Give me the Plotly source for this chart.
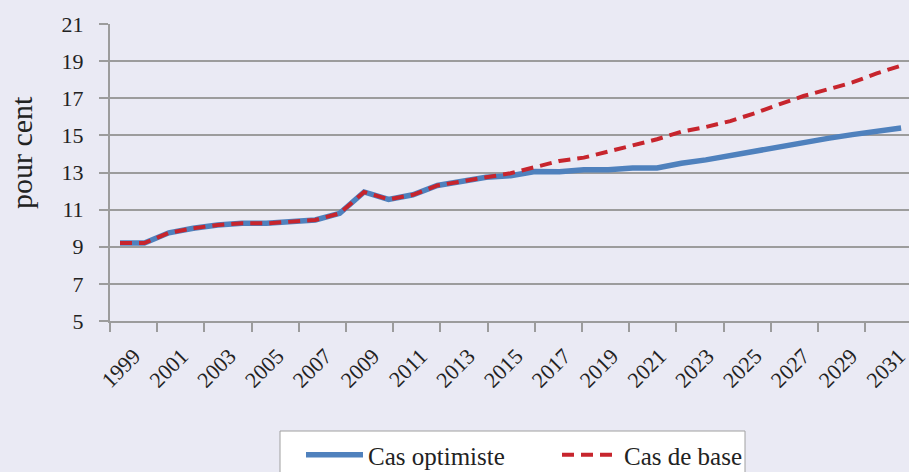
import plotly.graph_objects as go

years = list(range(1999, 2032))
cas_optimiste = [9.2, 9.2, 9.75, 10.0, 10.17, 10.26, 10.26, 10.35, 10.44, 10.8,
                 11.95, 11.55, 11.8, 12.3, 12.54, 12.74, 12.83, 13.05, 13.04, 13.15,
                 13.15, 13.24, 13.24, 13.5, 13.68, 13.92, 14.16, 14.39, 14.62, 14.84,
                 15.04, 15.22, 15.4]
cas_de_base = [9.2, 9.2, 9.75, 10.0, 10.17, 10.26, 10.26, 10.35, 10.44, 10.8,
               11.95, 11.55, 11.8, 12.3, 12.54, 12.74, 12.96, 13.31, 13.62, 13.8,
               14.12, 14.43, 14.79, 15.2, 15.45, 15.77, 16.19, 16.67, 17.12, 17.48,
               17.85, 18.34, 18.76]
tick_labels = [str(y) for y in range(1999, 2032, 2)]

BG = "#EAEAF4"
GRID = "#9C9C9C"
FONT = "Liberation Serif"
TXT = "#222222"

fig = go.Figure()
fig.add_trace(go.Scatter(x=years, y=cas_optimiste, mode="lines", name="Cas optimiste",
                         line=dict(color="#4F81BD", width=5.5)))
fig.add_trace(go.Scatter(x=years, y=cas_de_base, mode="lines", name="Cas de base",
                         line=dict(color="#C7252D", width=4, dash="12px,7px")))

W, H = 909, 472
L, R, T, B = 110, 0, 24, 151
plot_w = W - L - R
plot_h = H - T - B
pxu = 24.41  # px per year
x0 = 1999 - (120 - L) / pxu
x1 = x0 + plot_w / pxu

tick_step = 47.2
lab_step = 47.8
lab0 = 134 - L


def px_x(px):
    return (px - L) / plot_w


def px_y(py):
    return (T + plot_h - py) / plot_h


fig.update_layout(
    template="none",
    width=W, height=H,
    margin=dict(l=L, r=R, t=T, b=B, pad=0, autoexpand=False),
    paper_bgcolor=BG, plot_bgcolor=BG,
    font=dict(family=FONT, color=TXT, size=21),
    showlegend=True,
    legend=dict(orientation="h", x=px_x(301), y=px_y(432),
                xanchor="left", yanchor="top", bgcolor="rgba(0,0,0,0)",
                borderwidth=0, itemwidth=57,
                font=dict(family=FONT, size=25, color=TXT),
                entrywidth=184, entrywidthmode="pixels", tracegroupgap=0),
    xaxis=dict(range=[x0, x1], showgrid=False, showticklabels=False, ticks="",
               showline=True, linecolor=GRID, linewidth=2, zeroline=False,
               automargin=False),
    xaxis2=dict(range=[0, plot_w / tick_step], overlaying="x", anchor="y", side="bottom",
                tickvals=list(range(0, 18)), ticks="outside", ticklen=10, tickwidth=2,
                tickcolor=GRID, showticklabels=False, showgrid=False, showline=False,
                zeroline=False, automargin=False),
    xaxis3=dict(range=[-lab0 / lab_step, (plot_w - lab0) / lab_step], overlaying="x",
                anchor="y", side="bottom", tickvals=list(range(len(tick_labels))),
                ticktext=tick_labels, tickangle=-45, ticks="", showgrid=False,
                showline=False, zeroline=False, ticklabelstandoff=17, automargin=False,
                ticklabeloverflow="allow",
                tickfont=dict(family=FONT, size=22, color=TXT)),
    yaxis=dict(range=[5, 21], tickvals=list(range(5, 22, 2)), showgrid=True,
               gridcolor=GRID, gridwidth=2, ticks="outside", ticklen=9, tickwidth=2,
               tickcolor=GRID, showline=True, linecolor=GRID, linewidth=2,
               zeroline=False, ticklabelstandoff=11, automargin=False,
               tickfont=dict(family=FONT, size=22, color=TXT)),
)
fig.add_trace(go.Scatter(x=[None], y=[None], xaxis="x2", showlegend=False, hoverinfo="skip"))
fig.add_trace(go.Scatter(x=[None], y=[None], xaxis="x3", showlegend=False, hoverinfo="skip"))

# legend frame
fig.add_shape(type="rect", xref="paper", yref="paper",
              x0=px_x(280), x1=px_x(745), y0=px_y(480), y1=px_y(431),
              line=dict(color="#A0A0A0", width=1), fillcolor="white", layer="above")

fig.add_annotation(text="pour cent", textangle=-90, xref="paper", yref="paper",
                   x=px_x(21), y=px_y(153), xanchor="center",
                   yanchor="middle", showarrow=False,
                   font=dict(family=FONT, size=30, color=TXT))

fig.write_html("out.html", config={"displayModeBar": False},
               post_script="document.body.style.margin='0';document.body.style.background='%s';" % BG)
